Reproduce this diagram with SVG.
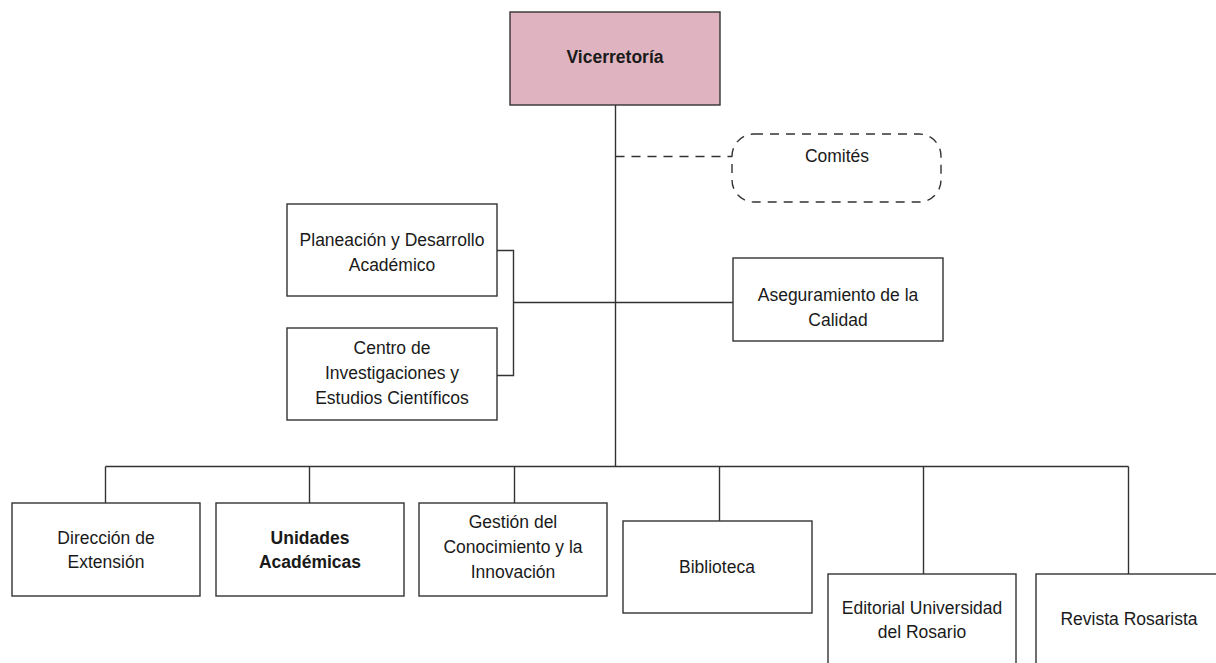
<svg xmlns="http://www.w3.org/2000/svg" width="1216" height="663" viewBox="0 0 1216 663">
<style>
.box{fill:#ffffff;stroke:#333333;stroke-width:1.4}
.main{fill:#dfb4c0;stroke:#333333;stroke-width:1.4}
.dash{fill:#ffffff;stroke:#333333;stroke-width:1.4;stroke-dasharray:9 7}
.ln{fill:none;stroke:#333333;stroke-width:1.4}
.dl{fill:none;stroke:#333333;stroke-width:1.4;stroke-dasharray:9 7}
text{font-family:"Liberation Sans",Arial,sans-serif;font-size:17.5px;fill:#1a1a1a;text-anchor:middle}
.b{font-weight:600}
</style>
<rect width="1216" height="663" fill="#ffffff"/>
<g id="connectors">
<line class="ln" x1="615.5" y1="105" x2="615.5" y2="466.5"/>
<line class="dl" x1="615.5" y1="156.5" x2="732" y2="156.5"/>
<polyline class="ln" points="497,250.5 513.5,250.5 513.5,375.5 497,375.5"/>
<line class="ln" x1="513.5" y1="302.5" x2="733" y2="302.5"/>
<line class="ln" x1="105.5" y1="466.5" x2="1128.5" y2="466.5"/>
<line class="ln" x1="105.5" y1="466.5" x2="105.5" y2="503"/>
<line class="ln" x1="309.5" y1="466.5" x2="309.5" y2="503"/>
<line class="ln" x1="514.5" y1="466.5" x2="514.5" y2="503"/>
<line class="ln" x1="719.5" y1="466.5" x2="719.5" y2="521"/>
<line class="ln" x1="923.5" y1="466.5" x2="923.5" y2="574"/>
<line class="ln" x1="1128.5" y1="466.5" x2="1128.5" y2="574"/>
</g>
<g id="vicerretoria">
<rect class="main" x="510" y="12" width="210" height="93"/>
<text class="b" x="615" y="63">Vicerretoría</text>
</g>
<g id="comites">
<rect class="dash" x="732" y="134" width="209" height="68" rx="22" ry="22"/>
<text x="837" y="162">Comités</text>
</g>
<g id="planeacion">
<rect class="box" x="287" y="204" width="210" height="92"/>
<text x="392" y="246">Planeación y Desarrollo</text>
<text x="392" y="271">Académico</text>
</g>
<g id="centro">
<rect class="box" x="287" y="328" width="210" height="92"/>
<text x="392" y="354">Centro de</text>
<text x="392" y="379">Investigaciones y</text>
<text x="392" y="404">Estudios Científicos</text>
</g>
<g id="aseguramiento">
<rect class="box" x="733" y="258" width="210" height="83"/>
<text x="838" y="301">Aseguramiento de la</text>
<text x="838" y="326">Calidad</text>
</g>
<g id="direccion">
<rect class="box" x="12" y="503" width="188" height="93"/>
<text x="106" y="544">Dirección de</text>
<text x="106" y="568">Extensión</text>
</g>
<g id="unidades">
<rect class="box" x="216" y="503" width="188" height="93"/>
<text class="b" x="310" y="544">Unidades</text>
<text class="b" x="310" y="568">Académicas</text>
</g>
<g id="gestion">
<rect class="box" x="419" y="503" width="188" height="93"/>
<text x="513" y="528">Gestión del</text>
<text x="513" y="553">Conocimiento y la</text>
<text x="513" y="578">Innovación</text>
</g>
<g id="biblioteca">
<rect class="box" x="623" y="521" width="189" height="92"/>
<text x="717" y="573">Biblioteca</text>
</g>
<g id="editorial">
<rect class="box" x="828" y="574" width="188" height="100"/>
<text x="922" y="614">Editorial Universidad</text>
<text x="922" y="638">del Rosario</text>
</g>
<g id="revista">
<rect class="box" x="1036" y="574" width="190" height="100"/>
<text x="1129" y="625">Revista Rosarista</text>
</g>
</svg>
